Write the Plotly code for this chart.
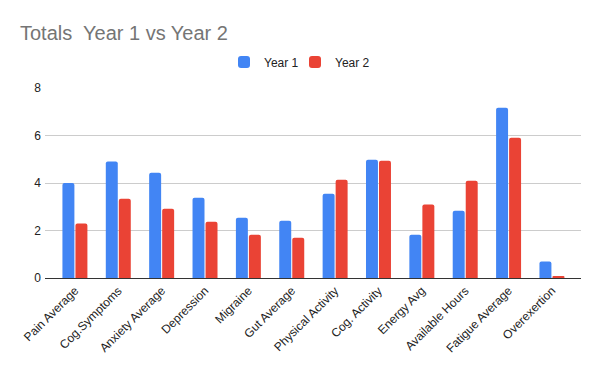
import plotly.graph_objects as go

categories = ["Pain Average", "Cog.Symptoms", "Anxiety Average", "Depression", "Migraine",
              "Gut Average", "Physical Activity", "Cog. Activity", "Energy Avg",
              "Available Hours", "Fatigue Average", "Overexertion"]
year1 = [4.00, 4.90, 4.43, 3.38, 2.54, 2.41, 3.55, 4.98, 1.82, 2.83, 7.17, 0.69]
year2 = [2.29, 3.34, 2.92, 2.37, 1.82, 1.70, 4.14, 4.94, 3.09, 4.10, 5.91, 0.05]
y_ticks = [0, 2, 4, 6, 8]

font = "Liberation Sans, Arial, sans-serif"

# The page body has a default 8px margin, so the figure is sized to fill the
# remaining 592x363 area of the 600x371 window.
W, H = 592, 363
PW = W - 37 - 19  # plot width in px

fig = go.Figure()
fig.add_trace(go.Bar(name="Year 1", x=categories, y=year1, marker_color="#4285F4",
                     marker_line_width=0, legend="legend"))
fig.add_trace(go.Bar(name="Year 2", x=categories, y=year2, marker_color="#EA4335",
                     marker_line_width=0, legend="legend2"))

leg_common = dict(orientation="h", xanchor="left", y=1 + 26/190, yanchor="middle",
                  font=dict(size=12, color="#222222"), itemwidth=30,
                  bgcolor="rgba(0,0,0,0)")

fig.update_layout(
    width=W, height=H,
    showlegend=True,
    paper_bgcolor="white", plot_bgcolor="white",
    margin=dict(l=37, r=19, t=80, b=93, autoexpand=False),
    font=dict(family=font, size=12, color="#222222"),
    title=dict(text="Totals&nbsp; Year 1 vs Year 2", x=12/W, xanchor="left",
               y=1 - 25/H, yanchor="middle",
               font=dict(family=font, size=20, color="#757575")),
    legend=dict(x=(216 - 37)/PW, **leg_common),
    legend2=dict(x=(287 - 37)/PW, **leg_common),
    barmode="group", bargap=0.40, bargroupgap=0.08,
    barcornerradius=2,
)
fig.update_xaxes(tickangle=-45, showgrid=False, showline=True, linecolor="#333333",
                 linewidth=1, ticks="", automargin=False, range=[-0.69, 11.67],
                 tickfont=dict(size=12, color="#222222"))
fig.update_yaxes(range=[0, 8.0], tickvals=y_ticks, showgrid=True, gridcolor="#cccccc",
                 zeroline=True, zerolinecolor="#333333", zerolinewidth=1,
                 ticks="", automargin=False, ticklabelstandoff=3,
                 tickfont=dict(size=12, color="#222222"))

fig.write_html("out.html")
